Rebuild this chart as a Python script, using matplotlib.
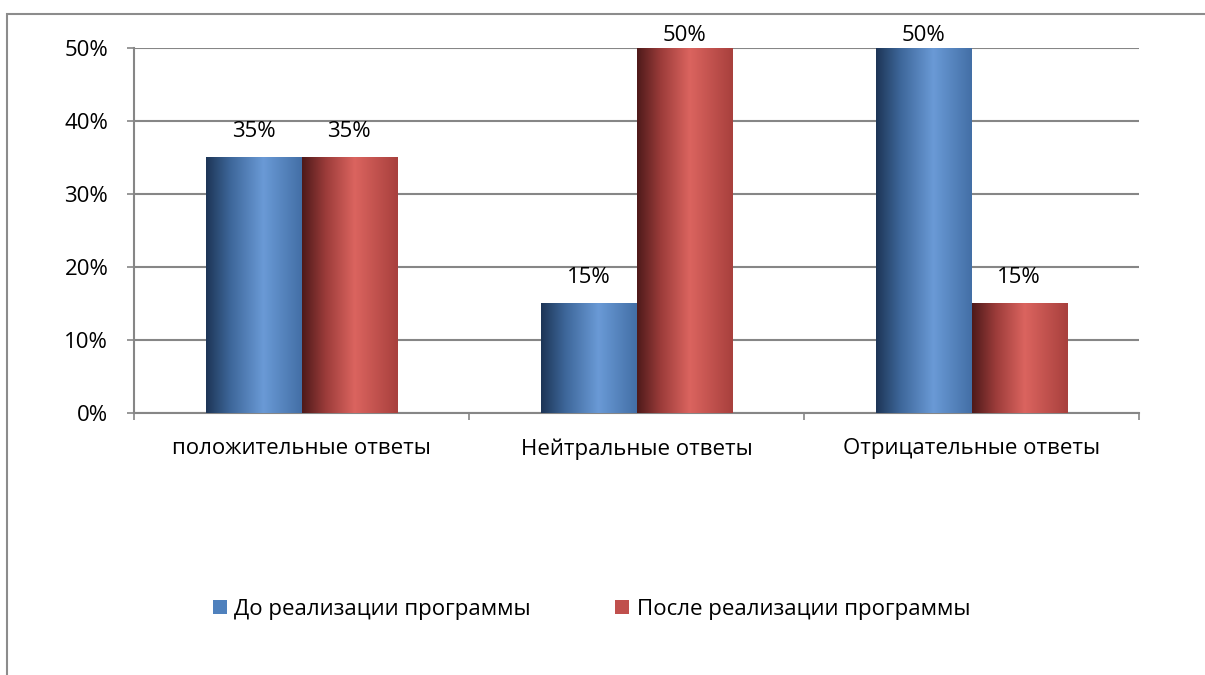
import matplotlib.pyplot as plt
import numpy as np
from matplotlib.colors import LinearSegmentedColormap
from matplotlib.patches import Rectangle, Patch

categories = ['положительные ответы', 'Нейтральные ответы', 'Отрицательные ответы']
before = [0.35, 0.15, 0.50]
after = [0.35, 0.50, 0.15]
series_names = ['До реализации программы', 'После реализации программы']
yticks = [0, 0.1, 0.2, 0.3, 0.4, 0.5]

plt.rcParams['font.family'] = ['Open Sans', 'DejaVu Sans']
fs = 16

blue_cmap = LinearSegmentedColormap.from_list(
    'b', [(0, '#1d3556'), (0.25, '#3d6699'), (0.6, '#6a9ad6'), (1, '#436fa6')])
red_cmap = LinearSegmentedColormap.from_list(
    'r', [(0, '#4e1a1a'), (0.25, '#9c3c3a'), (0.55, '#db645f'), (1, '#a8403d')])

fig = plt.figure(figsize=(12.05, 6.75), dpi=100)
fig.patches.append(Rectangle((7 / 1205, -0.1), 1.2, 1 - 14 / 675 + 0.1,
                             transform=fig.transFigure, fill=False,
                             edgecolor='#8c8c8c', linewidth=1.5))
ax = fig.add_axes([134 / 1205, 1 - 413 / 675, (1139 - 134) / 1205, (413 - 48) / 675])

x = np.arange(len(categories))
w = 0.285
grad = np.linspace(0, 1, 256).reshape(1, -1)
for vals, cmap, off in [(before, blue_cmap, -w / 2), (after, red_cmap, w / 2)]:
    for xi, v in zip(x, vals):
        left = xi + off - w / 2
        ax.imshow(grad, cmap=cmap, aspect='auto', extent=(left, left + w, 0, v),
                  interpolation='bicubic', zorder=3)
        ax.text(xi + off, min(v + 0.035, 0.517), f'{v:.0%}', ha='center',
                va='center', fontsize=fs, color='#000000', clip_on=False)

ax.set_xlim(-0.5, len(categories) - 0.5)
ax.set_ylim(0, 0.5)
ax.set_yticks(yticks)
ax.set_yticklabels([f'{t:.0%}' for t in yticks], fontsize=fs)
ax.yaxis.grid(True, color='#868686', linewidth=1.5, zorder=0)
ax.set_axisbelow(True)
ax.set_xticks(np.arange(len(categories) + 1) - 0.5)
ax.set_xticklabels([])
ax.tick_params(axis='x', length=5, color='#868686', width=1.2, direction='out')
ax.tick_params(axis='y', length=5, color='#868686', width=1.2, pad=13.5)
for xi, c in zip(x, categories):
    ax.text(xi, -0.049, c, ha='center', va='center', fontsize=fs)
for s in ['top', 'right']:
    ax.spines[s].set_visible(False)
ax.spines['left'].set_color('#868686')
ax.spines['left'].set_linewidth(1.5)
ax.spines['bottom'].set_color('#868686')
ax.spines['bottom'].set_linewidth(1.5)

handles = [Patch(facecolor='#4f81bd'), Patch(facecolor='#c0504d')]
fig.legend(handles, series_names, loc='center', bbox_to_anchor=(0.491, 1 - 609 / 675),
           ncol=2, frameon=False, fontsize=fs, handlelength=0.6, handleheight=0.6,
           handletextpad=0.35, columnspacing=3.8)

fig.savefig('out.png', dpi=100)
